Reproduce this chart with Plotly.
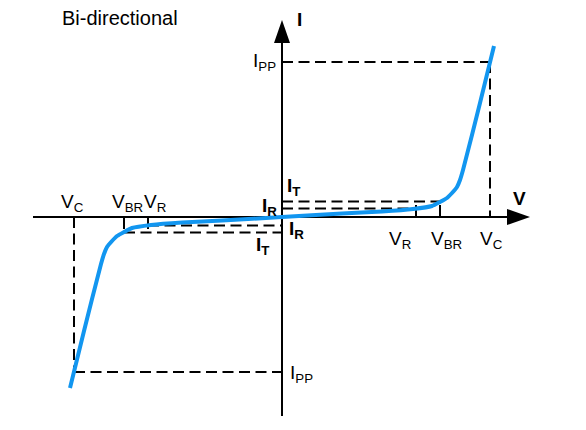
import plotly.graph_objects as go

# Characteristic values (arbitrary units; origin at the axis crossing)
V_R = 134
V_BR = 158
V_C = 208
I_R = 8.5
I_T = 15.5
I_PP = 155

# Positive branch of the I-V curve (negative branch is point-symmetric)
curve_v = [0, 60, 100, 131, 150, 158, 165, 170, 175, 178, 181, 198, 212]
curve_i = [0, 3.5, 5.5, 8, 11, 15, 19, 24, 30, 37, 47, 114, 171]

# Axis extents (tip of the arrows)
V_AXIS = [-249, 248]
I_AXIS = [-199, 197]
ARROW_LEN = 23
ARROW_HALF = 8
TICK = 12

FONT = "Arial, Liberation Sans, sans-serif"

full_v = [-v for v in reversed(curve_v)] + curve_v[1:]
full_i = [-i for i in reversed(curve_i)] + curve_i[1:]

fig = go.Figure()

shapes = []
dash = dict(color="black", width=2, dash="11px,5.5px")
solid = dict(color="black", width=2)

def line(x0, y0, x1, y1, style):
    shapes.append(dict(type="line", x0=x0, y0=y0, x1=x1, y1=y1, line=style, layer="below"))

# dashed guide lines
line(0, I_PP, V_C, I_PP, dash)
line(V_C, I_PP, V_C, 0, dash)
line(0, I_T, V_BR, I_T, dash)
line(0, I_R, V_R, I_R, dash)
line(-V_C, 0, -V_C, -I_PP, dash)
line(-V_C, -I_PP, 0, -I_PP, dash)
line(-V_BR, -I_T, 0, -I_T, dash)
line(-V_R, -I_R, 0, -I_R, dash)

# ticks
line(V_R, 0, V_R, TICK, solid)
line(V_BR, 0, V_BR, TICK, solid)
line(-V_R, 0, -V_R, -TICK, solid)
line(-V_BR, 0, -V_BR, -TICK, solid)

# axes
line(V_AXIS[0], 0, V_AXIS[1] - ARROW_LEN, 0, solid)
line(0, I_AXIS[0], 0, I_AXIS[1] - ARROW_LEN, solid)

# arrow heads
xb = V_AXIS[1] - ARROW_LEN
shapes.append(dict(type="path",
                   path=f"M {xb} {-ARROW_HALF} L {V_AXIS[1]} 0 L {xb} {ARROW_HALF} Z",
                   fillcolor="black", line=dict(width=0)))
yb = I_AXIS[1] - ARROW_LEN
shapes.append(dict(type="path",
                   path=f"M {-ARROW_HALF} {yb} L 0 {I_AXIS[1]} L {ARROW_HALF} {yb} Z",
                   fillcolor="black", line=dict(width=0)))

fig.add_trace(go.Scatter(x=full_v, y=full_i, mode="lines",
                         line=dict(color="#1296F0", width=4, shape="spline", smoothing=0.6),
                         hoverinfo="skip", showlegend=False))

annotations = []

def label(x, y, text, xanchor="center", size=19):
    annotations.append(dict(x=x, y=y, text=text, showarrow=False, xanchor=xanchor,
                            yanchor="middle", font=dict(family=FONT, size=size, color="black")))

label(-162, 199, "Bi-directional", size=20)
label(13, 198, "<b>I</b>", xanchor="left")
label(237, 19, "<b>V</b>")
label(-4, 155, "I<sub>PP</sub>", xanchor="right")
label(6, -157, "I<sub>PP</sub>", xanchor="left")
label(3, 30, "<b>I<sub>T</sub></b>", xanchor="left")
label(-3, 10, "<b>I<sub>R</sub></b>", xanchor="right")
label(5, -13, "<b>I<sub>R</sub></b>", xanchor="left")
label(-11, -29, "<b>I<sub>T</sub></b>", xanchor="right")
label(118, -23, "V<sub>R</sub>")
label(164, -23, "V<sub>BR</sub>")
label(209, -23, "V<sub>C</sub>")
label(-210, 14, "V<sub>C</sub>")
label(-155, 14, "V<sub>BR</sub>")
label(-127, 14, "V<sub>R</sub>")

fig.update_layout(
    width=586, height=430,
    margin=dict(l=0, r=0, t=0, b=0),
    paper_bgcolor="white", plot_bgcolor="white",
    xaxis=dict(range=[-282, 304], visible=False, fixedrange=True),
    yaxis=dict(range=[-213, 217], visible=False, fixedrange=True),
    shapes=shapes, annotations=annotations,
    showlegend=False,
)

fig.write_html("out.html", config={"displayModeBar": False},
               post_script="document.body.style.margin='0';")
